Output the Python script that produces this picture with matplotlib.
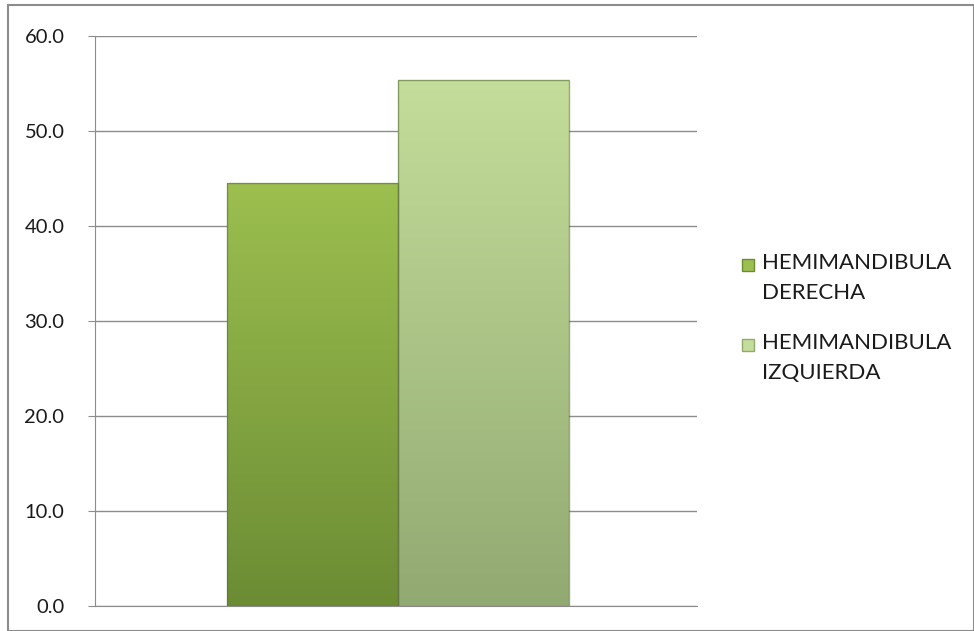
import numpy as np
import matplotlib.pyplot as plt
from matplotlib.colors import LinearSegmentedColormap
from matplotlib.patches import Rectangle

series = ["HEMIMANDIBULA\nDERECHA", "HEMIMANDIBULA\nIZQUIERDA"]
values = [44.5, 55.4]
top_colors = ["#9cbf4f", "#c4dd9a"]
bottom_colors = ["#6c8c34", "#92aa72"]
yticks = [0, 10, 20, 30, 40, 50, 60]

plt.rcParams['font.family'] = ['Lato', 'DejaVu Sans']

W, H = 974, 631
fig = plt.figure(figsize=(W / 100, H / 100), dpi=100)
fig.patches.append(Rectangle((8 / W, 0), 1 - 8 / W, 1 - 5 / H,
                             transform=fig.transFigure, fill=False,
                             edgecolor="#8c8c8c", linewidth=1.5))

ax = fig.add_axes([95 / W, 25 / H, 602 / W, 570 / H])

width = 0.284
center = 0.0035
offsets = [center - width / 2, center + width / 2]
for off, val, ctop, cbot in zip(offsets, values, top_colors, bottom_colors):
    x0 = off - width / 2
    cmap = LinearSegmentedColormap.from_list("g", [cbot, ctop])
    grad = np.linspace(0, 1, 256).reshape(-1, 1)
    img = ax.imshow(grad, extent=[x0, x0 + width, 0, val], origin="lower",
                    cmap=cmap, aspect="auto", zorder=3)
    rect = Rectangle((x0, 0), width, val, facecolor="none",
                     edgecolor="#5a6e3a", linewidth=1.0, alpha=0.6, zorder=4)
    ax.add_patch(rect)
    img.set_clip_path(rect)

ax.set_xlim(-0.5, 0.5)
ax.set_ylim(0, 60)
ax.set_yticks(yticks)
ax.set_yticklabels([f"{t:.1f}" for t in yticks], fontsize=14.5, color="#1a1a1a")
ax.set_xticks([])
ax.yaxis.grid(True, color="#8c8c8c", linewidth=1)
ax.set_axisbelow(True)
for s in ["top", "right"]:
    ax.spines[s].set_visible(False)
ax.spines["left"].set_color("#8c8c8c")
ax.spines["bottom"].set_color("#8c8c8c")
ax.tick_params(axis="y", length=5, color="#8c8c8c", pad=17)

# legend: square swatch aligned with the first line of each two-line label
entry_tops = [265, 345]
for ytop, lab, ctop, cbot in zip(entry_tops, series, top_colors, bottom_colors):
    sq = 12
    fig.patches.append(Rectangle((742 / W, 1 - (ytop + sq / 2) / H), sq / W, sq / H,
                                 transform=fig.transFigure, facecolor=ctop,
                                 edgecolor=cbot, linewidth=1.0))
    fig.text(762 / W, 1 - (ytop - 12) / H, lab, ha="left", va="top",
             fontsize=16, color="#1a1a1a", linespacing=1.6)

fig.savefig("out.png", dpi=100)
